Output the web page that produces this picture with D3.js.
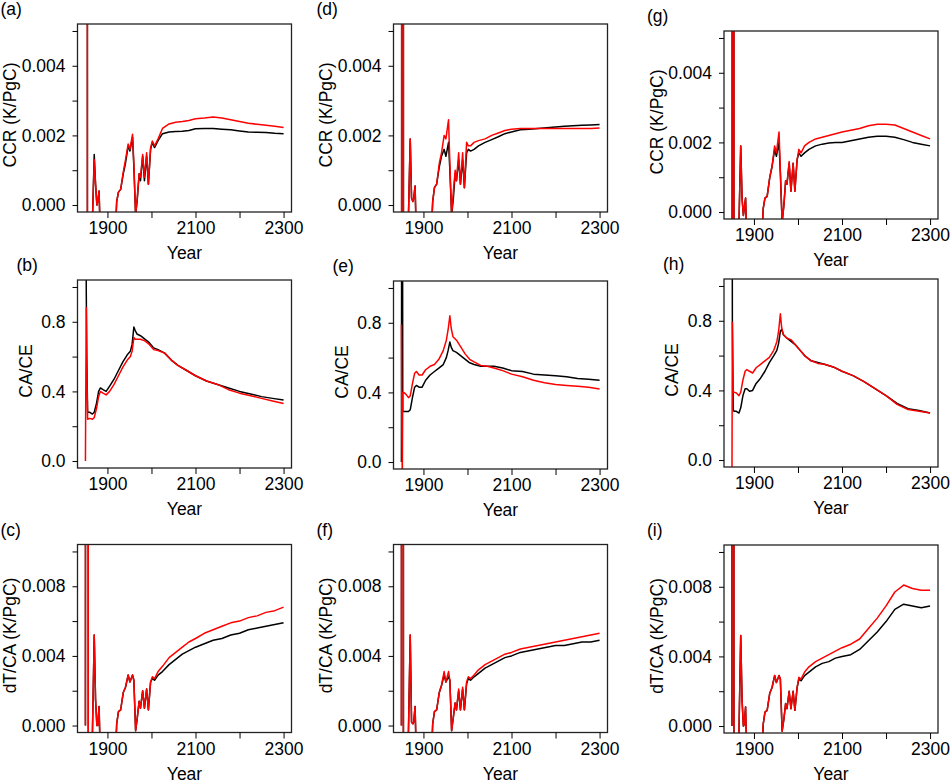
<!doctype html>
<html>
<head>
<meta charset="utf-8"/>
<title>CCR, CA/CE and dT/CA</title>
<script src="https://d3js.org/d3.v7.min.js"></script>
<style>
body { margin:0; background:#fff; }
text { font-family: "Liberation Sans", Arial, Helvetica, sans-serif; font-size:17.5px; fill:#000; }
</style>
</head>
<body>
<script>
// years for the CCR and dT/CA rows
var yrsSpike = [1850,1851,1854,1855,1858,1866,1870,1873,1876,1878,
                1881,1884,1900,1918,1921,1925,1930,1936,1941,1947,
                1951,1957,1960,1964,1968,1972,1975,1980,1984,1989,
                1993,1998,2002,2007,2015,2025,2040,2055,2070,2085,
                2100,2120,2140,2160,2180,2200,2220,2240,2260,2280,
                2300];
// years for the CA/CE row
var yrsRatio = [1850,1851,1852,1853,1855,1860,1866,1870,1875,1880,
                1884,1890,1897,1905,1915,1925,1935,1945,1952,1956,
                1960,1963,1967,1975,1985,1995,2005,2015,2030,2045,
                2060,2080,2100,2125,2150,2175,2200,2225,2250,2275,
                2300];

// (a) CCR
var ccrBlackA = [0.05,0.05,0.05,-0.05,-0.01,-0.0004,0.00145,0.0006,0.0,0.0001,
  0.0004,-0.001,-0.004,-0.0008,0.0001,0.00037,0.00045,0.0009,0.0012,0.0017,
  0.00155,0.00195,0.0011,-0.0003,0.0002,0.0009,0.0007,0.0014,0.0007,0.0014,
  0.0006,0.0016,0.0018,0.00165,0.00185,0.00205,0.0021,0.00211,0.00212,0.00214,
  0.00219,0.0022,0.0022,0.00218,0.00216,0.00213,0.0021,0.00209,0.00208,0.00206,
  0.00205];
var ccrRedA = [0.05,0.05,0.05,-0.05,-0.01,-0.0004,0.0013,0.0006,0.0,0.0001,
  0.0004,-0.001,-0.004,-0.0008,0.0001,0.00037,0.00045,0.00095,0.0013,0.00175,
  0.0016,0.00203,0.0012,-0.0003,0.00026,0.0009,0.0008,0.00145,0.0008,0.0015,
  0.0006,0.00165,0.00184,0.0017,0.0019,0.0022,0.00233,0.00238,0.0024,0.00243,
  0.00248,0.0025,0.00253,0.0025,0.00245,0.0024,0.00235,0.00232,0.00229,0.00226,
  0.00223];
// (d) CCR
var ccrBlackD = [-0.05,0.05,0.05,-0.05,-0.01,-0.0003,0.0019,0.0002,0.0001,0.0002,
  0.00055,-0.001,-0.004,-0.0008,0.0001,0.0005,0.0006,0.0011,0.0014,0.0016,
  0.0014,0.0018,0.001,-0.0003,0.0002,0.0009,0.0007,0.0013,0.0006,0.0013,
  0.0005,0.0015,0.0016,0.00155,0.0016,0.0017,0.0018,0.00188,0.00196,0.00205,
  0.0021,0.00216,0.00218,0.0022,0.00222,0.00224,0.00226,0.00228,0.00229,0.0023,
  0.00231];
var ccrRedD = [-0.05,0.05,0.05,-0.05,-0.01,-0.0003,0.0019,0.0002,0.0001,0.0002,
  0.00055,-0.001,-0.004,-0.0008,0.0001,0.0005,0.0006,0.0012,0.0015,0.002,
  0.0019,0.00245,0.0012,-0.0003,0.0004,0.001,0.0007,0.0015,0.0006,0.0015,
  0.0005,0.0018,0.0017,0.0017,0.0018,0.00185,0.0019,0.002,0.00207,0.00214,
  0.00218,0.0022,0.0022,0.0022,0.0022,0.0022,0.0022,0.0022,0.0022,0.0022,
  0.00221];
// (g) CCR
var ccrBlackG = [-0.05,0.05,0.05,-0.05,-0.01,-0.0003,0.0019,0.0004,-0.0001,0.0001,
  0.0004,-0.001,-0.004,-0.0008,0.0001,0.0004,0.00045,0.001,0.0013,0.0018,
  0.0016,0.002,0.0011,-0.0003,0.0002,0.0009,0.0008,0.0014,0.0006,0.0014,
  0.0006,0.0015,0.0017,0.0016,0.0017,0.0018,0.0019,0.00195,0.00198,0.002,
  0.002,0.00205,0.0021,0.00215,0.00218,0.00218,0.00215,0.00208,0.002,0.00195,
  0.0019];
var ccrRedG = [-0.05,0.05,0.05,-0.05,-0.01,-0.0003,0.0019,0.0004,-0.0001,0.0001,
  0.0004,-0.001,-0.004,-0.0008,0.0001,0.0004,0.00045,0.001,0.0013,0.0019,
  0.0017,0.0023,0.0012,-0.0003,0.0002,0.0009,0.0008,0.00145,0.0006,0.0014,
  0.0006,0.0015,0.0018,0.0017,0.0019,0.002,0.0021,0.00215,0.0022,0.00225,
  0.0023,0.00235,0.0024,0.00248,0.00252,0.00252,0.0025,0.0024,0.0023,0.0022,
  0.0021];

// (b) CA/CE
var caceBlackB = [2.0,1.5,0.95,0.6,0.28,0.28,0.27,0.28,0.33,0.40,
  0.42,0.41,0.40,0.43,0.47,0.52,0.57,0.61,0.63,0.67,
  0.77,0.75,0.73,0.72,0.70,0.68,0.65,0.64,0.62,0.58,
  0.55,0.52,0.49,0.46,0.44,0.42,0.40,0.385,0.37,0.36,
  0.35];
var caceRedB = [0.0,0.5,0.88,0.55,0.24,0.245,0.24,0.25,0.30,0.37,
  0.40,0.39,0.38,0.40,0.44,0.49,0.54,0.58,0.60,0.63,
  0.71,0.70,0.70,0.70,0.69,0.67,0.64,0.635,0.62,0.58,
  0.55,0.52,0.49,0.46,0.44,0.41,0.39,0.375,0.36,0.345,
  0.33];
// (e) CA/CE
var caceBlackE = [0.0,3.0,3.0,0.29,0.29,0.29,0.29,0.30,0.37,0.43,
  0.44,0.43,0.43,0.47,0.50,0.52,0.54,0.56,0.60,0.64,
  0.69,0.66,0.64,0.63,0.61,0.59,0.57,0.56,0.55,0.55,
  0.55,0.54,0.525,0.52,0.505,0.50,0.495,0.49,0.48,0.475,
  0.47];
var caceRedE = [0.79,0.2,-0.1,0.40,0.40,0.39,0.37,0.38,0.45,0.51,
  0.52,0.50,0.50,0.53,0.55,0.56,0.59,0.64,0.70,0.76,
  0.84,0.77,0.72,0.70,0.66,0.62,0.59,0.575,0.555,0.55,
  0.54,0.525,0.505,0.49,0.47,0.455,0.445,0.44,0.435,0.43,
  0.42];
// (h) CA/CE
var caceBlackH = [3.0,0.79,0.5,0.29,0.28,0.28,0.27,0.30,0.37,0.41,
  0.41,0.395,0.40,0.44,0.47,0.51,0.56,0.60,0.63,0.67,
  0.74,0.75,0.72,0.70,0.68,0.66,0.63,0.60,0.57,0.56,
  0.55,0.535,0.51,0.485,0.45,0.41,0.37,0.325,0.295,0.285,
  0.27];
var caceRedH = [-0.2,0.79,0.55,0.39,0.39,0.385,0.37,0.39,0.46,0.51,
  0.52,0.51,0.50,0.53,0.55,0.57,0.59,0.63,0.68,0.74,
  0.84,0.76,0.72,0.70,0.69,0.66,0.63,0.60,0.57,0.555,
  0.55,0.535,0.51,0.485,0.45,0.41,0.37,0.32,0.29,0.28,
  0.27];

// (c) dT/CA
var dtcaBlackC = [0.0,0.1,0.1,0.1,-0.1,-0.0003,0.0052,0.0015,0.0,0.0,
  0.0011,-0.002,-0.008,-0.002,0.0001,0.0008,0.0009,0.0019,0.0022,0.0029,
  0.0025,0.0029,0.0026,-0.0003,0.0005,0.0014,0.001,0.002,0.001,0.0021,
  0.0009,0.0025,0.0027,0.0026,0.0029,0.0031,0.0035,0.0038,0.0041,0.0043,
  0.0045,0.0047,0.0049,0.005,0.0052,0.0053,0.0055,0.0056,0.0057,0.0058,
  0.0059];
var dtcaRedC = [0.0,0.1,0.1,0.1,-0.1,-0.0003,0.0052,0.0015,0.0,0.0,
  0.0011,-0.002,-0.008,-0.002,0.0001,0.0008,0.0009,0.0019,0.0022,0.0029,
  0.0025,0.0029,0.0026,-0.0003,0.0005,0.0014,0.001,0.002,0.001,0.0021,
  0.0009,0.0025,0.0028,0.0027,0.0031,0.0034,0.0039,0.0042,0.0045,0.0048,
  0.005,0.0053,0.0055,0.0057,0.0059,0.006,0.0062,0.0063,0.0065,0.0066,
  0.0068];
// (f) dT/CA
var dtcaBlackF = [0.0,0.1,0.1,-0.1,-0.02,-0.0003,0.0052,0.0002,0.0001,0.0002,
  0.0011,-0.002,-0.008,-0.002,0.0001,0.0008,0.0009,0.0019,0.0023,0.0029,
  0.0025,0.0028,0.0026,-0.0003,0.0005,0.0013,0.0009,0.002,0.0009,0.0021,
  0.0009,0.0024,0.0027,0.0026,0.0028,0.003,0.0033,0.0035,0.0037,0.0039,
  0.004,0.0042,0.0043,0.0044,0.0045,0.0046,0.0046,0.0047,0.0048,0.0048,
  0.0049];
var dtcaRedF = [0.0,0.1,0.1,-0.1,-0.02,-0.0003,0.0052,0.0002,0.0001,0.0002,
  0.0011,-0.002,-0.008,-0.002,0.0001,0.0008,0.0009,0.0019,0.0023,0.0031,
  0.0025,0.0031,0.0026,-0.0003,0.0005,0.0013,0.0009,0.0021,0.0009,0.0022,
  0.0009,0.0025,0.0028,0.0027,0.0029,0.0032,0.0035,0.0037,0.0039,0.0041,
  0.0042,0.0044,0.0045,0.0046,0.0047,0.0048,0.0049,0.005,0.0051,0.0052,
  0.0053];
// (i) dT/CA
var dtcaBlackI = [0.0,0.1,0.1,-0.1,-0.02,-0.0003,0.0052,0.0015,0.0,0.0001,
  0.0011,-0.002,-0.008,-0.002,0.0001,0.0008,0.0009,0.0019,0.0022,0.0029,
  0.0025,0.0029,0.0027,-0.0003,0.0004,0.0013,0.001,0.002,0.001,0.002,
  0.0009,0.0022,0.0027,0.0026,0.0029,0.0031,0.0034,0.0036,0.0037,0.0039,
  0.004,0.0041,0.0044,0.0049,0.0054,0.006,0.0067,0.007,0.0069,0.0068,
  0.0069];
var dtcaRedI = [0.0,0.1,0.1,-0.1,-0.02,-0.0003,0.0052,0.0015,0.0,0.0001,
  0.0011,-0.002,-0.008,-0.002,0.0001,0.0008,0.0009,0.0019,0.0022,0.0029,
  0.0025,0.0029,0.0027,-0.0003,0.0004,0.0013,0.001,0.002,0.001,0.002,
  0.0009,0.0022,0.0028,0.0027,0.0031,0.0034,0.0037,0.0039,0.0041,0.0043,
  0.0045,0.0047,0.005,0.0056,0.0062,0.0069,0.0077,0.0081,0.0079,0.0078,
  0.0078];

// axes: ticks and labels
var xTicks = [1900, 2000, 2100, 2200, 2300];
var xLabels = ["1900", "", "2100", "", "2300"];
var rowTitles = ["CCR (K/PgC)", "CA/CE", "dT/CA (K/PgC)"];
var rowTicks = [[0, 0.001, 0.002, 0.003, 0.004, 0.005],
                [0, 0.2, 0.4, 0.6, 0.8, 1.0],
                [0, 0.002, 0.004, 0.006, 0.008, 0.010]];
var rowLabels = [["0.000", "", "0.002", "", "0.004", ""],
                 ["0.0", "", "0.4", "", "0.8", ""],
                 ["0.000", "", "0.004", "", "0.008", ""]];
var rowDomains = [[-0.0002, 0.0052], [-0.04, 1.04], [-0.0004, 0.0104]];

var panels = [
  {letter: "(a)", col: 0, row: 0, years: yrsSpike, black: ccrBlackA, red: ccrRedA},
  {letter: "(b)", col: 0, row: 1, years: yrsRatio, black: caceBlackB, red: caceRedB},
  {letter: "(c)", col: 0, row: 2, years: yrsSpike, black: dtcaBlackC, red: dtcaRedC},
  {letter: "(d)", col: 1, row: 0, years: yrsSpike, black: ccrBlackD, red: ccrRedD},
  {letter: "(e)", col: 1, row: 1, years: yrsRatio, black: caceBlackE, red: caceRedE},
  {letter: "(f)", col: 1, row: 2, years: yrsSpike, black: dtcaBlackF, red: dtcaRedF},
  {letter: "(g)", col: 2, row: 0, years: yrsSpike, black: ccrBlackG, red: ccrRedG},
  {letter: "(h)", col: 2, row: 1, years: yrsRatio, black: caceBlackH, red: caceRedH},
  {letter: "(i)", col: 2, row: 2, years: yrsSpike, black: dtcaBlackI, red: dtcaRedI}
];

// layout
var PW = 214, PH = 188;
var colLeft = [77.5, 393.5, 724];
var rowTop = [[24, 280, 544.5], [24, 281, 544.5], [31, 279, 545]];

var svg = d3.select("body").append("svg")
    .attr("width", 951)
    .attr("height", 784);

panels.forEach(function(p, k) {
  var left = colLeft[p.col], top = rowTop[p.col][p.row];
  var g = svg.append("g").attr("transform", "translate(" + left + "," + top + ")");

  var x = d3.scaleLinear().domain([1832, 2318]).range([0, PW]);
  var y = d3.scaleLinear().domain(rowDomains[p.row]).range([PH, 0]);

  svg.append("clipPath").attr("id", "clip" + k)
    .append("rect").attr("width", PW).attr("height", PH);

  var line = d3.line()
    .x(function(d, i) { return x(p.years[i]); })
    .y(function(d) { return y(d); });

  var plot = g.append("g").attr("clip-path", "url(#clip" + k + ")");
  plot.append("path").datum(p.black)
    .attr("d", line).attr("fill", "none")
    .attr("stroke", "#000").attr("stroke-width", 1.5)
    .attr("stroke-linejoin", "round");
  plot.append("path").datum(p.red)
    .attr("d", line).attr("fill", "none")
    .attr("stroke", "#ff0000").attr("stroke-width", 1.5)
    .attr("stroke-linejoin", "round");

  // box
  g.append("rect").attr("width", PW).attr("height", PH)
    .attr("fill", "none").attr("stroke", "#222").attr("stroke-width", 1.3);

  var ya = g.append("g").call(d3.axisLeft(y)
      .tickValues(rowTicks[p.row])
      .tickFormat(function(d, i) { return rowLabels[p.row][i]; })
      .tickSize(5).tickPadding(7));
  ya.select(".domain").remove();

  var xa = g.append("g").attr("transform", "translate(0," + PH + ")")
    .call(d3.axisBottom(x)
      .tickValues(xTicks)
      .tickFormat(function(d, i) { return xLabels[i]; })
      .tickSize(6).tickPadding(4));
  xa.select(".domain").remove();

  g.append("text")
    .attr("x", PW / 2).attr("y", PH + 47)
    .attr("text-anchor", "middle")
    .text("Year");

  g.append("text")
    .attr("transform", "translate(" + (p.row == 1 ? -46 : -61.5) + "," + (PH / 2 - 3) + ") rotate(-90)")
    .attr("text-anchor", "middle")
    .text(rowTitles[p.row]);

  g.append("text")
    .attr("x", p.row == 1 ? -61 : -77).attr("y", -9)
    .text(p.letter);
});
</script>
</body>
</html>
